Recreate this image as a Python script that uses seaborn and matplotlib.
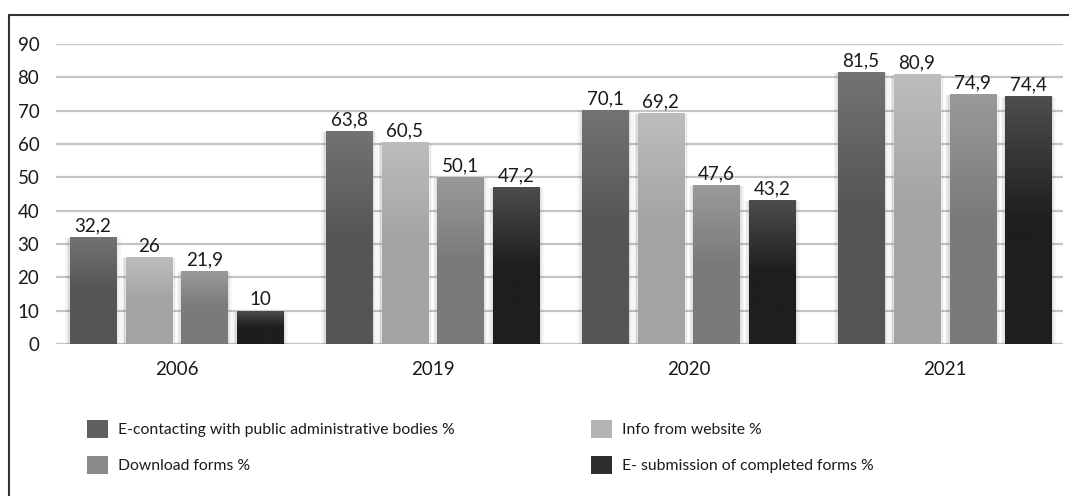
import numpy as np
import pandas as pd
import seaborn as sns
import matplotlib.pyplot as plt
from matplotlib.patches import Patch, Rectangle
from matplotlib.colors import LinearSegmentedColormap

# chart values
years = ['2006', '2019', '2020', '2021']
series = ['E-contacting with public administrative bodies %',
          'Info from website %',
          'Download forms %',
          'E- submission of completed forms %']
e_contact = [32.2, 63.8, 70.1, 81.5]
info_web = [26, 60.5, 69.2, 80.9]
download = [21.9, 50.1, 47.6, 74.9]
e_submit = [10, 47.2, 43.2, 74.4]

# gradient colours (top, bottom) per series
grad = [('#737373', '#555555'), ('#bdbdbd', '#a3a3a3'),
        ('#9a9a9a', '#7a7a7a'), ('#4e4e4e', '#1e1e1e')]
base = ['#5f5f5f', '#b3b3b3', '#8a8a8a', '#2e2e2e']

df = pd.DataFrame({
    'year': years * 4,
    'series': np.repeat(series, 4),
    'value': e_contact + info_web + download + e_submit,
})

sns.set_style('white')
plt.rcParams['font.family'] = ['Lato', 'DejaVu Sans']
txt = '#1a1a1a'

fig = plt.figure(figsize=(10.69, 4.96), dpi=100)
ax = fig.add_axes([56/1069, 1 - 344/496, (1063-56)/1069, 300/496])

sns.barplot(data=df, x='year', y='value', hue='series', palette=base,
            width=0.87, gap=0.174, ax=ax, legend=False, zorder=3)

ax.yaxis.grid(True, color='#c4c4c4', linewidth=1.6, zorder=0)
ax.set_axisbelow(True)
sns.despine(ax=ax, left=True, right=True, top=True, bottom=True)
ax.axhline(0, color='#c4c4c4', linewidth=1.8, zorder=2)
ax.set_xlabel('')
ax.set_ylabel('')
ax.tick_params(axis='both', length=0, labelsize=13.5, colors=txt)
ax.tick_params(axis='y', pad=12)
ax.tick_params(axis='x', pad=12)

grad_img = np.linspace(0, 1, 256).reshape(-1, 1)
for i, cont in enumerate(ax.containers):
    cmap = LinearSegmentedColormap.from_list('g%d' % i, [grad[i][1], grad[i][1], grad[i][0]])
    for bar in cont:
        x, w, h = bar.get_x(), bar.get_width(), bar.get_height()
        # soft shadow round the sides and foot of each bar
        for k, a in enumerate([0.07, 0.05, 0.03]):
            d = 0.006 * (k + 1)
            sh = Rectangle((x - d, -0.25 * (k + 1)), w + 2 * d, h - 0.3 + 0.25 * (k + 1),
                           facecolor='#000000', alpha=a, edgecolor='none', zorder=2.5)
            ax.add_patch(sh)
        im = ax.imshow(grad_img, cmap=cmap, extent=[x, x + w, 0, h],
                       aspect='auto', origin='lower', zorder=3.5,
                       vmin=0, vmax=1)
        im.set_clip_path(bar)
    labels = [('%g' % v).replace('.', ',') for v in cont.datavalues]
    ax.bar_label(cont, labels=labels, padding=2, fontsize=13.5, color=txt)

ax.set_xlim(-0.4705, 3.462)
ax.set_ylim(0, 90)
ax.set_yticks(range(0, 91, 10))

# legend in two columns
h = [Patch(facecolor=c, edgecolor='none') for c in base]
kw = dict(frameon=False, fontsize=11.3, handlelength=1.35, handleheight=1.35,
          handletextpad=0.65, labelspacing=1.2, labelcolor=txt, loc='center left',
          borderpad=0, borderaxespad=0)
fig.legend([h[0], h[2]], [series[0], series[2]], bbox_to_anchor=(87/1069, 1 - 447/496), **kw)
fig.legend([h[1], h[3]], [series[1], series[3]], bbox_to_anchor=(591/1069, 1 - 447/496), **kw)

# outer frame
fig.add_artist(plt.Line2D([9/1069, 9/1069], [0, 1 - 15/496], color='#333333', linewidth=1.5))
fig.add_artist(plt.Line2D([9/1069, 1], [1 - 15/496, 1 - 15/496], color='#333333', linewidth=1.5))

fig.savefig('out.png', dpi=100)
